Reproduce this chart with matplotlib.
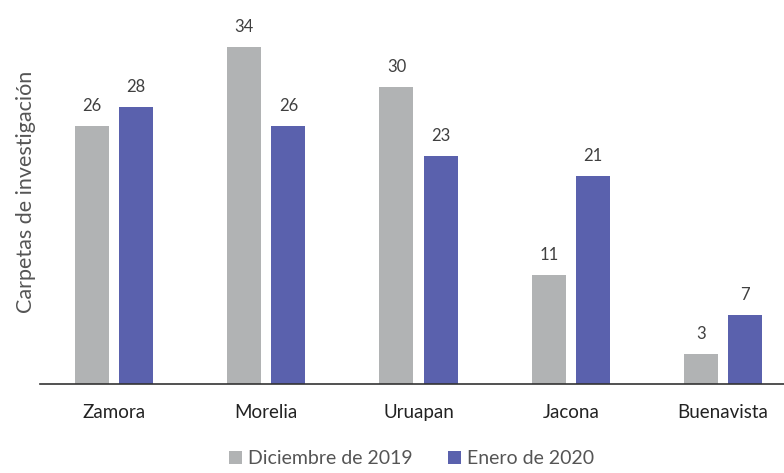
import matplotlib.pyplot as plt
import numpy as np

plt.rcParams['font.family'] = ['Lato', 'DejaVu Sans']

municipios = ['Zamora', 'Morelia', 'Uruapan', 'Jacona', 'Buenavista']
dic_2019 = [26, 34, 30, 11, 3]
ene_2020 = [28, 26, 23, 21, 7]

gris = '#b1b3b4'
azul = '#5a61ad'
texto = '#404040'

fig = plt.figure(figsize=(7.84, 4.73), dpi=100)
ax = fig.add_axes([0.051, 0.188, 0.949, 0.812])

x = np.arange(len(municipios))
w = 0.223
off = 0.145
b1 = ax.bar(x - off, dic_2019, w, color=gris, label='Diciembre de 2019')
b2 = ax.bar(x + off, ene_2020, w, color=azul, label='Enero de 2020')

for bars, vals in [(b1, dic_2019), (b2, ene_2020)]:
    for b, v in zip(bars, vals):
        ax.text(b.get_x() + b.get_width() / 2, v + 1.2, str(v),
                ha='center', va='bottom', fontsize=12, color=texto)

ax.set_xlim(-0.486, 4.40)
ax.set_ylim(0, 38.75)
ax.set_xticks(x)
ax.set_xticklabels(municipios, fontsize=13.5, color='#222222')
ax.tick_params(axis='x', length=0, pad=14)
ax.set_yticks([])
for s in ['top', 'right', 'left']:
    ax.spines[s].set_visible(False)
ax.spines['bottom'].set_color('#333333')
ax.spines['bottom'].set_linewidth(1.2)

ax.set_ylabel('Carpetas de investigación', fontsize=15.5, color='#555555', labelpad=3)

fig.legend(loc='lower center', bbox_to_anchor=(0.525, -0.025), ncol=2, frameon=False,
           handlelength=0.7, handleheight=0.7, handletextpad=0.3,
           columnspacing=1.8, labelcolor='#555555', prop={'size': 14})

fig.savefig('out.png', dpi=100)
